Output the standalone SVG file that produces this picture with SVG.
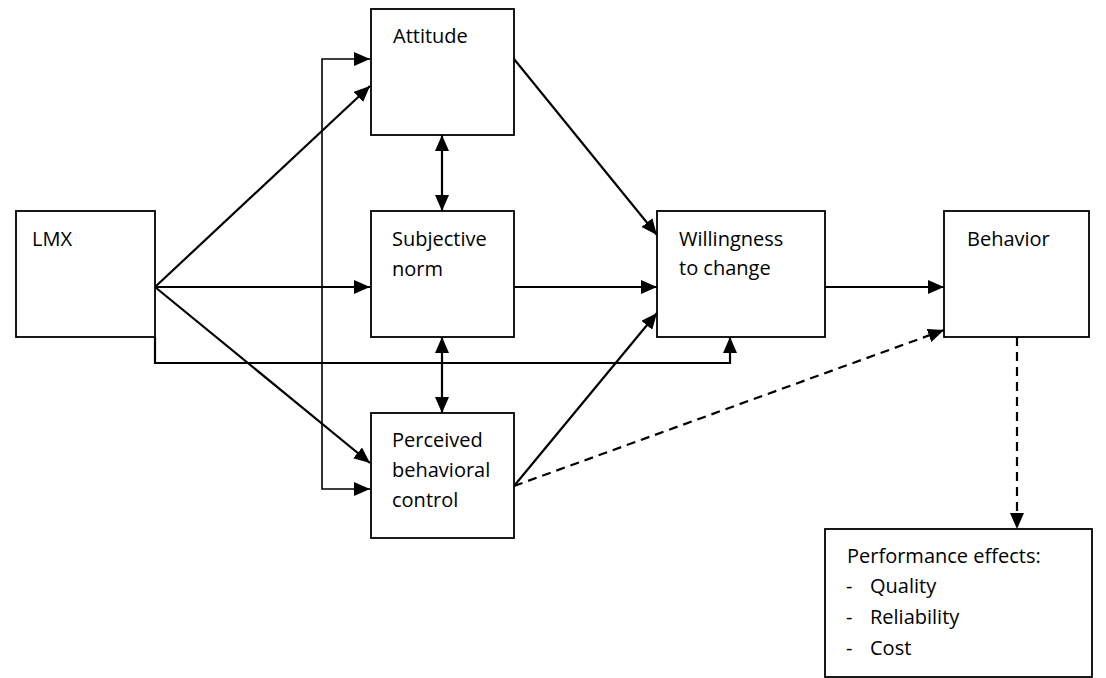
<svg xmlns="http://www.w3.org/2000/svg" width="1106" height="678" viewBox="0 0 1106 678">
<style>
.box{fill:#fff;stroke:#000;stroke-width:1.8}
.t{font-family:"Open Sans","DejaVu Sans",sans-serif;font-size:20px;fill:#000}
.c{fill:none;stroke:#000;stroke-width:2.2}
.thin{fill:none;stroke:#000;stroke-width:1.6}
.d{fill:none;stroke:#000;stroke-width:2.2;stroke-dasharray:9,6}
</style>
<defs>
<marker id="ah" markerUnits="userSpaceOnUse" markerWidth="16" markerHeight="14" viewBox="0 0 16 14" refX="16" refY="7" orient="auto-start-reverse">
<path d="M0,0 L16,7 L0,14 z" fill="#000"/>
</marker>
</defs>
<rect width="1106" height="678" fill="#fff"/>
<g id="connectors">
<polyline class="thin" points="370,59 322,59 322,489 370,489" marker-start="url(#ah)" marker-end="url(#ah)"/>
<line class="c" x1="155" y1="287" x2="370" y2="86" marker-end="url(#ah)"/>
<line class="c" x1="155" y1="287" x2="370" y2="287" marker-end="url(#ah)"/>
<line class="c" x1="155" y1="287" x2="370" y2="463" marker-end="url(#ah)"/>
<polyline class="c" points="155,337 155,363 730,363 730,337" marker-end="url(#ah)"/>
<line class="c" x1="442" y1="135" x2="442" y2="211" marker-start="url(#ah)" marker-end="url(#ah)"/>
<line class="c" x1="442" y1="337" x2="442" y2="413" marker-start="url(#ah)" marker-end="url(#ah)"/>
<line class="c" x1="514" y1="59" x2="657" y2="235" marker-end="url(#ah)"/>
<line class="c" x1="514" y1="287" x2="657" y2="287" marker-end="url(#ah)"/>
<line class="c" x1="514" y1="486" x2="657" y2="313" marker-end="url(#ah)"/>
<line class="c" x1="825" y1="287" x2="944" y2="287" marker-end="url(#ah)"/>
<line class="d" x1="514" y1="486" x2="944" y2="330" marker-end="url(#ah)"/>
<line class="d" x1="1017" y1="337" x2="1017" y2="529" marker-end="url(#ah)"/>
</g>
<g id="lmx">
<rect class="box" x="16" y="211" width="139" height="126"/>
<text class="t" x="32" y="246">LMX</text>
</g>
<g id="attitude">
<rect class="box" x="371" y="9" width="143" height="126"/>
<text class="t" x="393" y="43">Attitude</text>
</g>
<g id="subjective">
<rect class="box" x="371" y="211" width="143" height="126"/>
<text class="t" x="392" y="246">Subjective</text>
<text class="t" x="392" y="276">norm</text>
</g>
<g id="perceived">
<rect class="box" x="371" y="413" width="143" height="125"/>
<text class="t" x="392" y="447">Perceived</text>
<text class="t" x="392" y="477">behavioral</text>
<text class="t" x="392" y="507">control</text>
</g>
<g id="willingness">
<rect class="box" x="657" y="211" width="168" height="126"/>
<text class="t" x="679" y="246">Willingness</text>
<text class="t" x="679" y="275">to change</text>
</g>
<g id="behavior">
<rect class="box" x="944" y="211" width="145" height="126"/>
<text class="t" x="967" y="246">Behavior</text>
</g>
<g id="performance">
<rect class="box" x="825" y="529" width="267" height="148"/>
<text class="t" x="847" y="563">Performance effects:</text>
<text class="t" x="846" y="593">-</text><text class="t" x="870" y="593">Quality</text>
<text class="t" x="846" y="624">-</text><text class="t" x="870" y="624">Reliability</text>
<text class="t" x="846" y="655">-</text><text class="t" x="870" y="655">Cost</text>
</g>
</svg>
